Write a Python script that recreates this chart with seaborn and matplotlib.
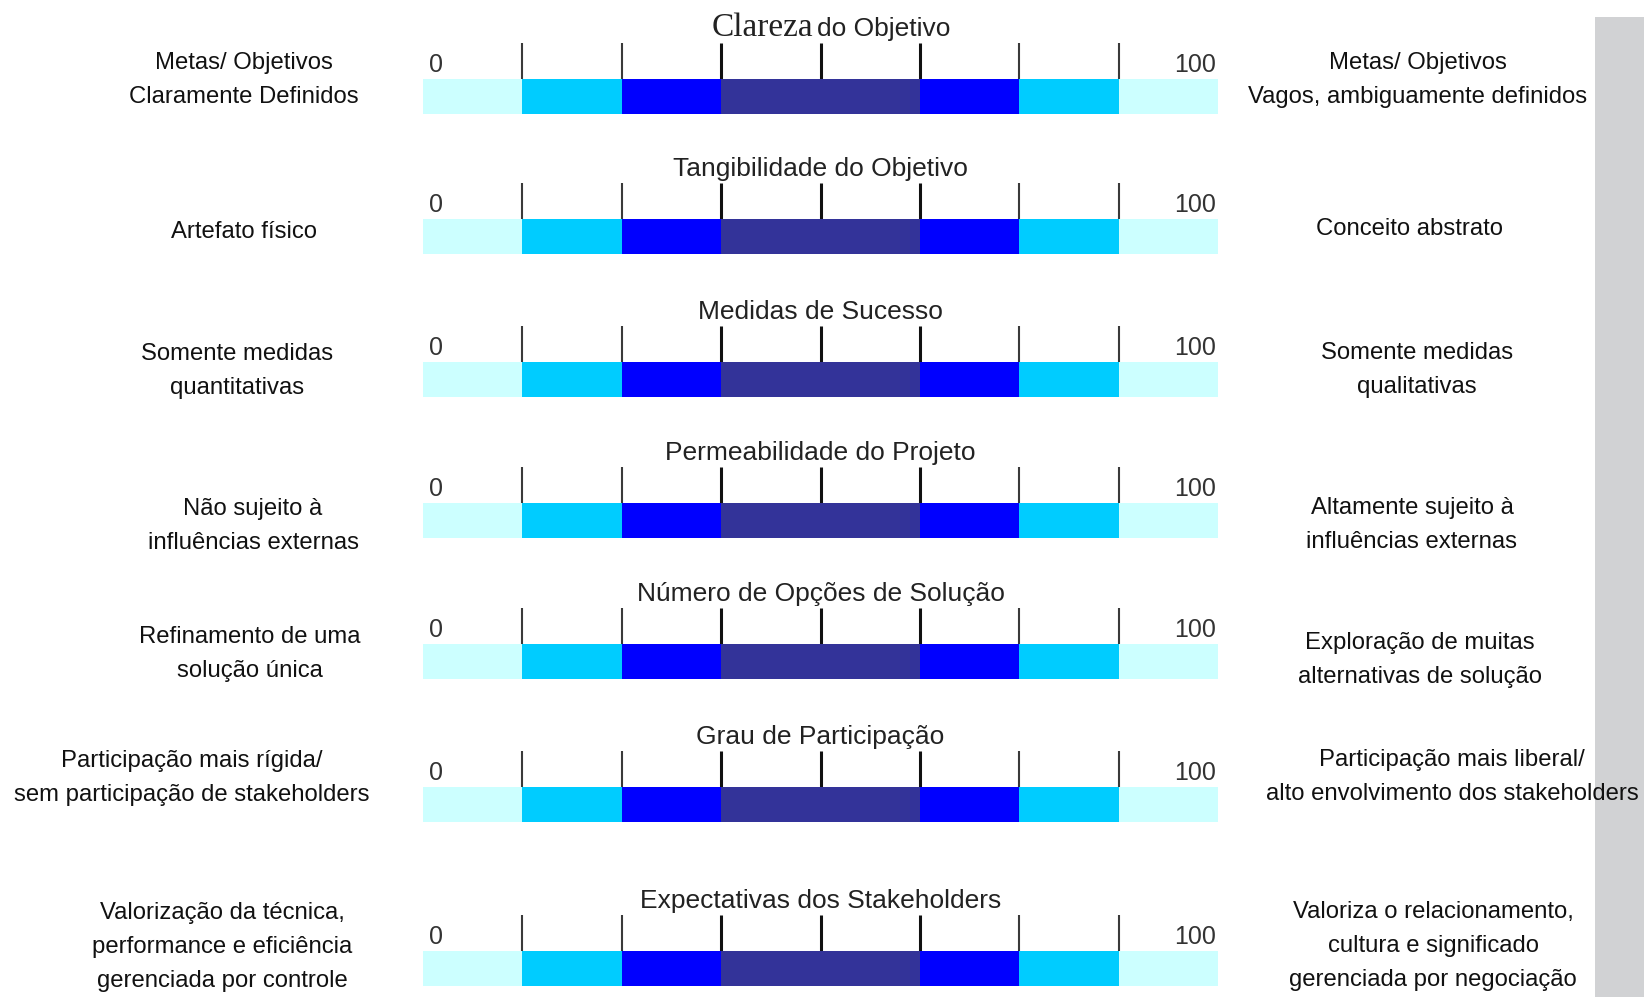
import matplotlib
matplotlib.use('Agg')
import matplotlib.pyplot as plt
import seaborn as sns
from matplotlib import font_manager
from matplotlib.patches import Rectangle

sns.set_theme(style='white')

# ---- data ----
dimensions = ['Clareza do Objetivo', 'Tangibilidade do Objetivo', 'Medidas de Sucesso',
              'Permeabilidade do Projeto', 'Número de Opções de Solução',
              'Grau de Participação', 'Expectativas dos Stakeholders']
left_labels = ['Metas/ Objetivos\nClaramente Definidos',
               'Artefato físico',
               'Somente medidas\nquantitativas',
               'Não sujeito à\ninfluências externas',
               'Refinamento de uma\nsolução única',
               'Participação mais rígida/\nsem participação de stakeholders',
               'Valorização da técnica,\nperformance e eficiência\ngerenciada por controle']
right_labels = ['Metas/ Objetivos\nVagos, ambiguamente definidos',
                'Conceito abstrato',
                'Somente medidas\nqualitativas',
                'Altamente sujeito à\ninfluências externas',
                'Exploração de muitas\nalternativas de solução',
                'Participação mais liberal/\nalto envolvimento dos stakeholders',
                'Valoriza o relacionamento,\ncultura e significado\ngerenciada por negociação']
scale_min, scale_max = 0, 100
# bands drawn longest first, each shorter one on top
band_ends = [100, 87.5, 75, 62.5, 37.5, 25, 12.5]
band_colors = ['#ccffff', '#00ccff', '#0000ff', '#333399', '#0000ff', '#00ccff', '#ccffff']
major_marks = [37.5, 50, 62.5]
minor_marks = [12.5, 25, 75, 87.5]

# ---- layout (pixels) ----
W, H = 1644, 997
bar_left, bar_right, bar_h = 423, 1218, 35
row_tops = [79, 219, 362, 503, 644, 787, 951]
left_x = [244, 244, 237, 253, 250, 192, 222]
left_y = [80, 232, 371, 526, 654, 778, 947]
right_x = [1418, 1409, 1417, 1412, 1420, 1452, 1433]
right_y = [80, 229, 370, 525, 660, 777, 946]

names = {f.name for f in font_manager.fontManager.ttflist}
narrow = 'Liberation Sans Narrow' in names
side_font = 'Liberation Sans Narrow' if narrow else 'Liberation Sans'
side_size = 20.5 if narrow else 17.2
title_size = 22 if narrow else 19

fig = plt.figure(figsize=(W / 100, H / 100), dpi=100)
fig.patches.append(Rectangle((1595 / W, 0), (W - 1595) / W, 1 - 17 / H,
                             transform=fig.transFigure, facecolor='#d1d2d4',
                             edgecolor='none', zorder=0))

for i, name in enumerate(dimensions):
    top = row_tops[i]
    ax = fig.add_axes([bar_left / W, 1 - (top + bar_h) / H,
                       (bar_right - bar_left) / W, bar_h / H])
    ax.set_facecolor('none')
    for end, col in zip(band_ends, band_colors):
        sns.barplot(x=[end], y=[name], orient='h', color=col, saturation=1,
                    width=1, linewidth=0, ax=ax)
    ax.set_xlim(scale_min, scale_max)
    ax.set_ylim(0.5, -0.5)
    ax.set_xticks(major_marks)
    ax.set_xticks(minor_marks, minor=True)
    ax.set_yticks([])
    ax.set_xlabel('')
    ax.set_ylabel('')
    ax.tick_params(axis='x', which='major', top=True, bottom=False, direction='out',
                   length=26, width=2.2, color='#111111', labeltop=False, labelbottom=False)
    ax.tick_params(axis='x', which='minor', top=True, bottom=False, direction='out',
                   length=26, width=1.5, color='#3a3a3a', labeltop=False, labelbottom=False)
    sns.despine(ax=ax, left=True, bottom=True, top=True, right=True)

    tr = ax.get_xaxis_transform()
    ax.text(scale_min + 0.8, 1 + 7 / bar_h, str(scale_min), transform=tr, ha='left',
            va='baseline', fontsize=18, color='#333333', family='Liberation Sans')
    ax.text(scale_max - 0.3, 1 + 7 / bar_h, str(scale_max), transform=tr, ha='right',
            va='baseline', fontsize=18, color='#333333', family='Liberation Sans')

    ty = 1 + 43 / bar_h
    if i == 0:
        first, rest = name.split(' ', 1)
        ax.text(49.1, ty, first, transform=tr, ha='right', va='baseline',
                fontsize=24, color='#222222', family='Liberation Serif')
        ax.text(49.6, ty, rest, transform=tr, ha='left', va='baseline',
                fontsize=title_size, color='#222222', family=side_font)
    else:
        ax.text(50, ty, name, transform=tr, ha='center', va='baseline',
                fontsize=title_size, color='#222222', family=side_font)

    fig.text(left_x[i] / W, 1 - left_y[i] / H, left_labels[i], ha='center', va='center',
             multialignment='center', fontsize=side_size, family=side_font,
             color='#111111', linespacing=1.7)
    fig.text(right_x[i] / W, 1 - right_y[i] / H, right_labels[i], ha='center', va='center',
             multialignment='center', fontsize=side_size, family=side_font,
             color='#111111', linespacing=1.7)

fig.savefig('out.png', dpi=100)
